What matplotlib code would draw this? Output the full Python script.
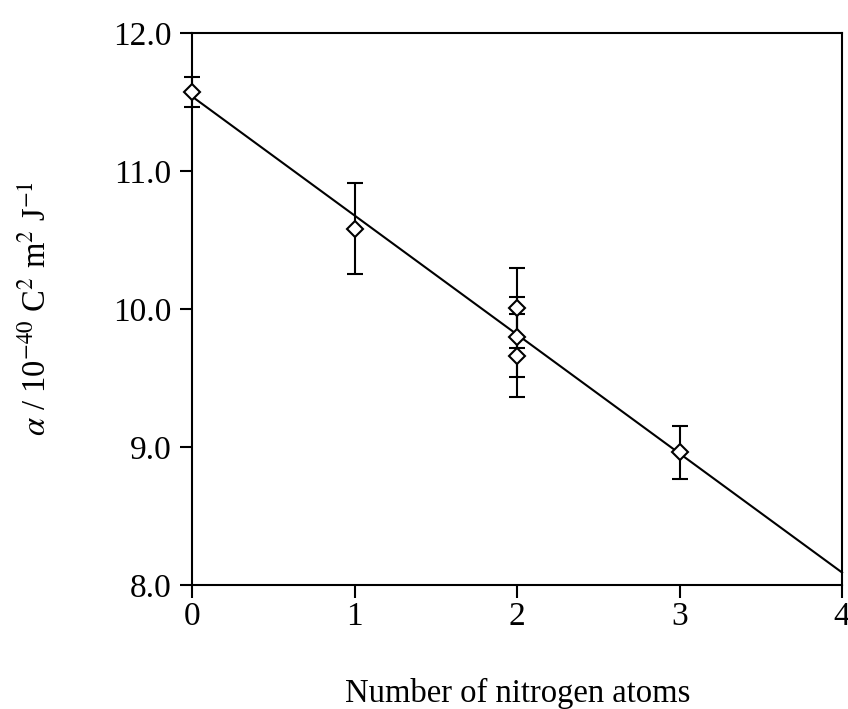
import matplotlib.pyplot as plt

# polarisability vs. number of nitrogen atoms
n_atoms = [0, 1, 2, 2, 2, 3]
alpha = [11.57, 10.58, 10.01, 9.80, 9.66, 8.96]
alpha_err = [0.11, 0.33, 0.29, 0.29, 0.30, 0.19]

# straight line fit as drawn
fit_x = [0, 4]
fit_y = [11.54, 8.09]

x_ticks = [0, 1, 2, 3, 4]
y_ticks = [8.0, 9.0, 10.0, 11.0, 12.0]

plt.rcParams['font.family'] = ['Liberation Serif', 'DejaVu Serif']
plt.rcParams['mathtext.fontset'] = 'stix'

fig = plt.figure(figsize=(8.48, 7.09), dpi=100)
ax = fig.add_axes([0.2264, 0.175, 0.7666, 0.7785])

ax.plot(fit_x, fit_y, color='black', lw=1.5, zorder=2, clip_on=False)
ax.errorbar(n_atoms, alpha, yerr=alpha_err, fmt='D', ms=8.5, mfc='white',
            mec='black', mew=1.5, ecolor='black', elinewidth=1.5,
            capsize=6, capthick=1.5, zorder=3, clip_on=False)

ax.set_xlim(0, 4)
ax.set_ylim(8.0, 12.0)
ax.set_xticks(x_ticks)
ax.set_xticklabels([str(t) for t in x_ticks])
ax.set_yticks(y_ticks)
ax.set_yticklabels(['%.1f' % t for t in y_ticks])
ax.tick_params(direction='out', length=9, width=1.5, labelsize=24)
ax.tick_params(axis='y', pad=6)
ax.tick_params(axis='x', pad=3)

for s in ax.spines.values():
    s.set_linewidth(1.5)

fig.text(0.611, 0.022, 'Number of nitrogen atoms', ha='center', va='center',
         fontsize=23.5)
fig.text(0.044, 0.565, r'$\alpha$ / 10$^{-40}$ C$^2$ m$^2$ J$^{-1}$',
         rotation=90, ha='center', va='center', fontsize=23.5)

fig.savefig('out.png', dpi=100)
